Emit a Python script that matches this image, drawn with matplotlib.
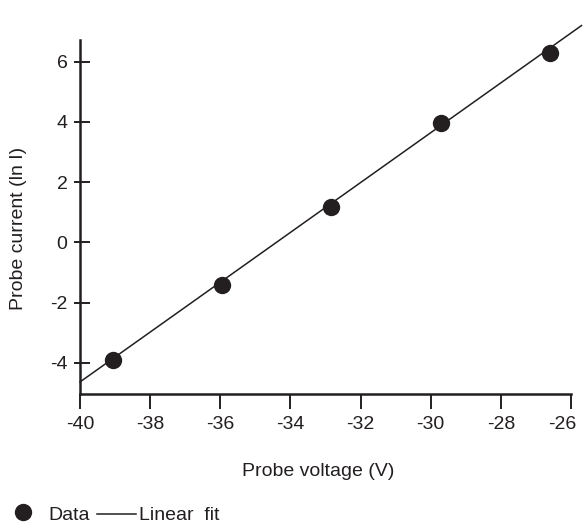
import numpy as np
import matplotlib
matplotlib.use("Agg")
import matplotlib.pyplot as plt
from matplotlib.lines import Line2D
from matplotlib.transforms import ScaledTranslation

plt.rcParams['font.family'] = ['Liberation Sans', 'DejaVu Sans']

voltage = [-39.05, -35.95, -32.85, -29.7, -26.6]
ln_current = [-3.9, -1.41, 1.18, 3.95, 6.28]
fit_x = [-40.0, -25.7]
fit_y = [-4.63, 7.2]
xticks = [-40, -38, -36, -34, -32, -30, -28, -26]
yticks = [-4, -2, 0, 2, 4, 6]

TXT = '#231f20'
W, H = 583, 527

fig = plt.figure(figsize=(5.83, 5.27), dpi=100)
ax = fig.add_axes([80 / W, 1 - 394 / H, 491 / W, 354 / H])

ax.plot(fit_x, fit_y, color=TXT, lw=1.1, clip_on=False, zorder=2)
ax.plot(voltage, ln_current, 'o', color=TXT, ms=12.5, mew=0, zorder=3, clip_on=False)

ax.set_xlim(-40, -26)
ax.set_ylim(-5.03, 6.72)
ax.set_xticks(xticks)
ax.set_yticks(yticks)
ax.set_yticks(yticks, minor=True)
ax.yaxis.remove_overlapping_locs = False
ax.set_xticklabels([str(t) for t in xticks], fontsize=14, color=TXT)
ax.set_yticklabels([str(t) for t in yticks], fontsize=14, color=TXT)
for s in ['top', 'right']:
    ax.spines[s].set_visible(False)
for s in ['left', 'bottom']:
    ax.spines[s].set_linewidth(1.8)
    ax.spines[s].set_color(TXT)
ax.tick_params(axis='x', direction='out', length=11, width=1.4, pad=5, color=TXT)
ax.tick_params(axis='y', which='major', direction='in', length=7.5, width=1.4, pad=9, color=TXT)
ax.tick_params(axis='y', which='minor', direction='out', length=4, width=1.4, color=TXT)

# keep the last x tick label inside the figure
last = ax.get_xticklabels()[-1]
last.set_transform(last.get_transform() + ScaledTranslation(-9 / 100, 0, fig.dpi_scale_trans))

fig.text(318.5 / W, 1 - 471 / H, 'Probe voltage (V)', fontsize=14, ha='center', va='center', color=TXT)
fig.text(19 / W, 1 - 228 / H, 'Probe current (ln I)', fontsize=14, ha='center', va='center',
         rotation=90, color=TXT)

# legend at bottom
fig.add_artist(Line2D([23 / W], [1 - 512 / H], marker='o', ms=12.5, mew=0, color=TXT,
                      linestyle='none', transform=fig.transFigure))
fig.text(48 / W, 1 - 515 / H, 'Data', fontsize=14, va='center', ha='left', color=TXT)
fig.add_artist(Line2D([97 / W, 136 / W], [1 - 514 / H, 1 - 514 / H], color=TXT, lw=1.1,
                      transform=fig.transFigure))
fig.text(139 / W, 1 - 515 / H, 'Linear  fit', fontsize=14, va='center', ha='left', color=TXT)

fig.savefig('out.png', dpi=100)
